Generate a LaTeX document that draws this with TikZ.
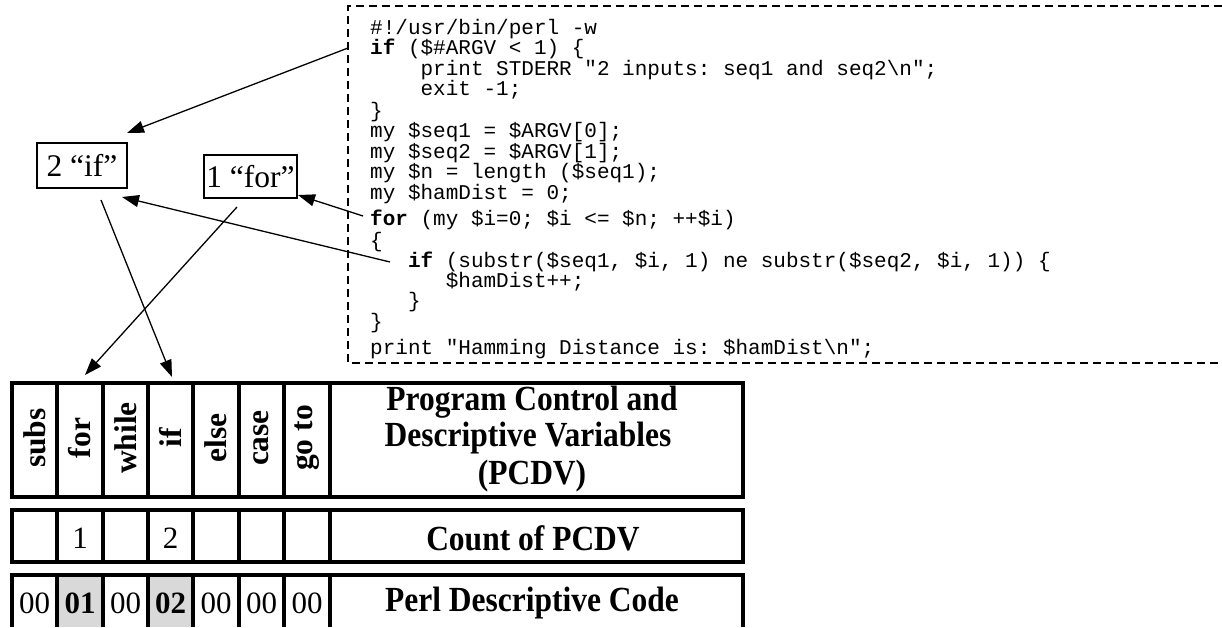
\documentclass[tikz,border=0pt]{standalone}
\usepackage{fontspec}
\setmainfont{Liberation Serif}
\setmonofont{Liberation Mono}
\usetikzlibrary{arrows.meta}
\definecolor{cellgray}{HTML}{D9D9D9}
\newcommand{\tallbox}[1]{\scalebox{1}[1.12]{#1}}
\begin{document}
\begin{tikzpicture}[x=1pt,y=-1pt,
  codeline/.style={anchor=base west, inner sep=0pt, font=\fontsize{21}{21}\ttfamily},
  lbl/.style={draw, line width=2pt, inner sep=0pt, font=\fontsize{31.5}{31.5}\selectfont},
  arr/.style={-{Triangle[length=17pt,width=12pt]}, line width=1.3pt},
  tab/.style={line width=3.5pt},
  dashbox/.style={line width=2pt, dash pattern=on 8pt off 5pt},
  vlab/.style={rotate=90, font=\fontsize{31.5}{31.5}\selectfont\bfseries, inner sep=0pt},
  cell/.style={font=\fontsize{31}{31}\selectfont, inner sep=0pt},
  bcell/.style={font=\fontsize{31}{31}\selectfont\bfseries, inner sep=0pt},
  title/.style={font=\fontsize{31.5}{31.5}\selectfont\bfseries, inner sep=0pt}
]
\useasboundingbox (0,0) rectangle (1222,627);

% dashed code frame
\draw[dashbox] (1222,6) -- (348,6) -- (348,363) -- (1222,363);

% code lines
\node[codeline] (c1)  at (370,34)  {\#!/usr/bin/perl -w};
\node[codeline] (c2)  at (370,54)  {\textbf{if} (\$\#ARGV < 1) \{};
\node[codeline] (c3)  at (370,75)  {\phantom{xxxx}print STDERR "2 inputs: seq1 and seq2\textbackslash n";};
\node[codeline] (c4)  at (370,95)  {\phantom{xxxx}exit -1;};
\node[codeline] (c5)  at (370,117) {\}};
\node[codeline] (c6)  at (370,137) {my \$seq1 = \$ARGV[0];};
\node[codeline] (c7)  at (370,158) {my \$seq2 = \$ARGV[1];};
\node[codeline] (c8)  at (370,178) {my \$n = length (\$seq1);};
\node[codeline] (c9)  at (370,199) {my \$hamDist = 0;};
\node[codeline] (c10) at (370,225) {\textbf{for} (my \$i=0; \$i <= \$n; ++\$i)};
\node[codeline] (c11) at (370,247) {\{};
\node[codeline] (c12) at (370,267) {\phantom{xxx}\textbf{if} (substr(\$seq1, \$i, 1) ne substr(\$seq2, \$i, 1)) \{};
\node[codeline] (c13) at (370,287) {\phantom{xxxxxx}\$hamDist++;};
\node[codeline] (c14) at (370,307) {\phantom{xxx}\}};
\node[codeline] (c15) at (370,328) {\}};
\node[codeline] (c16) at (370,354) {print "Hamming Distance is: \$hamDist\textbackslash n";};

% count boxes
\node[lbl, minimum width=90pt, minimum height=45pt] (bif) at (82,165.5) {2 “if”};
\node[lbl, minimum width=93pt, minimum height=43pt] (bfor) at (250.5,176.5) {1 “for”};

% table fills
\fill[cellgray] (57,575) rectangle (103,627);
\fill[cellgray] (148,575) rectangle (193,627);

% table row 1
\draw[tab] (12,383) rectangle (743,497);
\foreach \x in {57,103,148,193,239,284,330} \draw[tab] (\x,383) -- (\x,497);
% table row 2
\draw[tab] (12,510) rectangle (743,562);
\foreach \x in {57,103,148,193,239,284,330} \draw[tab] (\x,510) -- (\x,562);
% table row 3
\draw[tab] (10.25,575) -- (744.75,575);
\foreach \x in {12,57,103,148,193,239,284,330,743} \draw[tab] (\x,575) -- (\x,627);

% header labels
\node[vlab] (hsubs)  at (34.5,438)  {subs};
\node[vlab] (hfor)   at (80,438)    {for};
\node[vlab] (hwhile) at (125.5,438) {while};
\node[vlab] (hif)    at (170.5,438) {if};
\node[vlab] (helse)  at (216,438)   {else};
\node[vlab] (hcase)  at (261.5,438) {case};
\node[vlab] (hgoto)  at (307,438)   {go to};
\node[title] (hpcdv1) at (532,402) {\tallbox{Program Control and}};
\node[title] (hpcdv2) at (528,438) {\tallbox{Descriptive Variables}};
\node[title] (hpcdv3) at (532,476) {\tallbox{(PCDV)}};

% count row
\node[cell] (nfor) at (80,538) {1};
\node[cell] (nif)  at (170.5,538) {2};
\node[title] (hcount) at (533,538) {\tallbox{Count of PCDV}};

% code row
\node[cell]  (dsubs)  at (34.5,603)  {00};
\node[bcell] (dfor)   at (80,603)    {01};
\node[cell]  (dwhile) at (125.5,603) {00};
\node[bcell] (dif)    at (170.5,603) {02};
\node[cell]  (delse)  at (216,603)   {00};
\node[cell]  (dcase)  at (261.5,603) {00};
\node[cell]  (dgoto)  at (307,603)   {00};
\node[title] (hcode)  at (532,603) {\tallbox{Perl Descriptive Code}};

% connector end points
\coordinate (s1) at (348,48);  \coordinate (t1) at (127,133);
\coordinate (s2) at (363,216); \coordinate (t2) at (298,195);
\coordinate (s3) at (390,262); \coordinate (t3) at (122,197);
\coordinate (s4) at (237,207); \coordinate (t4) at (85,375);
\coordinate (s5) at (101,200); \coordinate (t5) at (172,377);

\draw[arr] (s1) -- (t1);
\draw[arr] (s2) -- (t2);
\draw[arr] (s3) -- (t3);
\draw[arr] (s4) -- (t4);
\draw[arr] (s5) -- (t5);
\end{tikzpicture}
\end{document}
